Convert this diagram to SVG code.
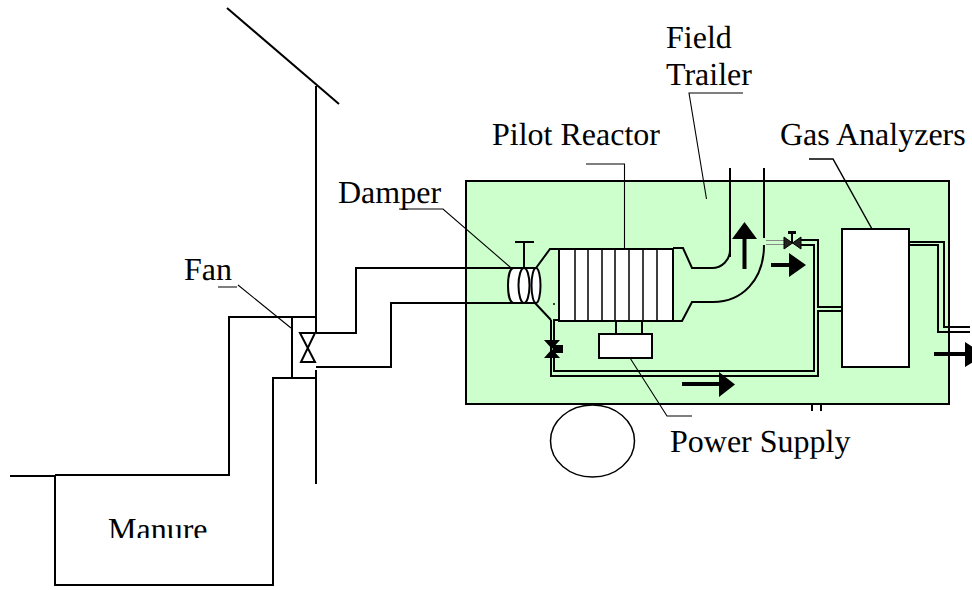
<svg xmlns="http://www.w3.org/2000/svg" width="972" height="590" viewBox="0 0 972 590">
<style>
.l{fill:none;stroke:#000;stroke-width:2;stroke-linejoin:miter}
.t{fill:none;stroke:#000;stroke-width:1.100}
.w{fill:#fff;stroke:#000;stroke-width:2}
.a{fill:#000;stroke:none}
.d{fill:#222;stroke:#000;stroke-width:1}
.g{fill:none;stroke:#888;stroke-width:1}
text{font-family:"Liberation Serif","Times New Roman",serif;font-size:32px;fill:#000;text-rendering:geometricPrecision}
</style>
<defs>
<clipPath id="manureClip"><rect x="100" y="510" width="120" height="28"/></clipPath>
</defs>
<rect width="972" height="590" fill="#fff"/>
<g id="trailer"><rect x="466" y="181" width="483" height="223" fill="#ccffcc" stroke="#000" stroke-width="2"/></g>
<g id="wheel"><ellipse cx="592.500" cy="441" rx="42" ry="36" fill="#fff" stroke="#000" stroke-width="1.500"/></g>
<g id="connectors">
<path class="l" d="M227 8L339 104"/>
<path class="l" d="M316 86V333M316 370V484"/>
<path class="l" d="M10 476H55M55 475H229V317H316"/>
<path class="l" d="M316 378H273V585H55V475"/>
<path class="l" d="M316 333H356V268H510M316 367H391V303H510"/>
<path class="l" d="M536 268L550 249H559M535 303L551 320"/>
<path class="l" d="M673 248H683L692 268H712C722 268 730 260 730 250M730 168V257"/>
<path class="l" d="M673 321H682L692 302H713C742 302 764 280 764 245M764 168V238"/>
<path class="g" d="M766 240.500H784M766 244.500H784"/>
<path class="l" d="M801 240H818V307H842M801 245H814V371H554V320H559"/>
<path class="l" d="M842 311H818V376H551V320"/>
<path class="l" d="M909 242H944V327H970M909 245H938V332H970"/>
<path class="l" d="M812 404V411M821 404V411"/>
<path class="t" d="M218 287H237M238 285L291 328"/>
<path class="t" d="M399 209H443L517 273"/>
<path class="t" d="M586 164H624.500V249"/>
<path class="t" d="M743 93H689L706.500 199"/>
<path class="l" style="stroke-width:1.500" d="M809 159H833L872 229"/>
<path class="t" d="M630 358L667 416H692"/>
<circle cx="554" cy="304" r="1" fill="#000"/>
</g>
<g id="fan"><path class="l" d="M292 317V378"/><path class="l" d="M300 333H315L301 362H315Z"/></g>
<g id="damper">
<rect x="512" y="268" width="24" height="35" fill="#fff"/>
<path class="l" d="M524 268V242M515 242H534"/>
<path class="w" d="M514 268C510 268 508 276 508 285.500C508 295 510 303 514 303"/>
<ellipse class="w" cx="524" cy="285.500" rx="5.500" ry="17.500"/>
<ellipse class="w" cx="536" cy="285.500" rx="4.500" ry="17.500"/>
<path class="l" d="M510 268H536M510 303H536"/>
</g>
<g id="reactor">
<rect class="w" x="559" y="249" width="114" height="72"/>
<path class="l" style="stroke-width:1.500" d="M575 249V321M588 249V321M602 249V321M615 249V321M629 249V321M643 249V321M657 249V321"/>
</g>
<g id="power-supply"><path class="l" d="M616 321V334M642 321V334"/><rect class="w" x="599" y="334" width="53" height="24"/></g>
<g id="analyzer"><rect class="w" x="842" y="229" width="67" height="138"/></g>
<g id="valve-top"><path class="d" d="M784 237L801 249V237L784 249Z"/><path class="l" d="M792 243V234"/><rect class="a" x="788" y="231" width="8" height="3"/></g>
<g id="valve-bottom"><path class="a" d="M544 340H560L544 358H560Z"/><rect class="a" x="555" y="345" width="8" height="8"/></g>
<g id="arrows">
<path class="a" d="M742.500 269V239H732L744.500 222L757 239H746.500V269Z"/>
<path class="a" d="M771 263H789V253L806 265L789 277V267H771Z"/>
<path class="a" d="M682 382H719V372L735 384.500L719 397V386H682Z"/>
<path class="a" d="M934 352H965V342L985 354.500L965 367V356H934Z"/>
</g>
<g id="labels">
<text x="666" y="48">Field</text>
<text x="666" y="85">Trailer</text>
<text x="492" y="145">Pilot Reactor</text>
<text x="780" y="145">Gas Analyzers</text>
<text x="338" y="203">Damper</text>
<text x="184" y="280">Fan</text>
<text x="670" y="452">Power Supply</text>
<text x="108" y="539.500" clip-path="url(#manureClip)">Manure</text>
</g>
</svg>
